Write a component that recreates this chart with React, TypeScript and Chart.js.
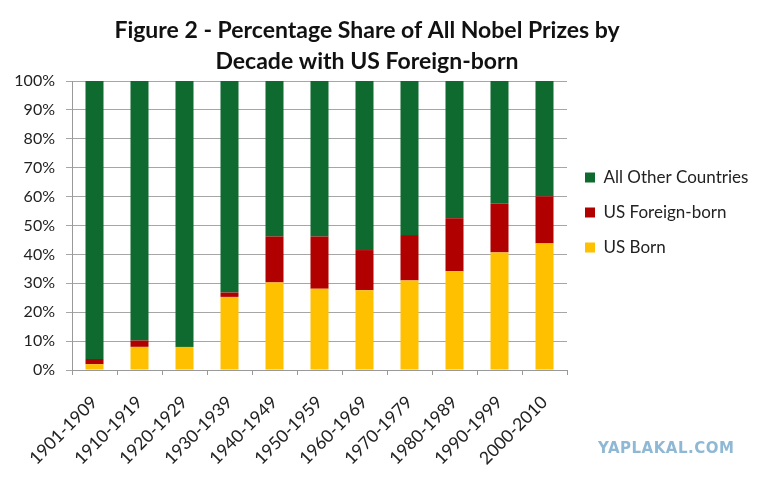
import React, { useEffect, useRef } from "react";
import { Chart, registerables } from "chart.js";

Chart.register(...registerables);

const decades = [
  "1901-1909", "1910-1919", "1920-1929", "1930-1939", "1940-1949", "1950-1959",
  "1960-1969", "1970-1979", "1980-1989", "1990-1999", "2000-2010",
];
const usBorn = [2, 8, 8, 25.3, 30.3, 28.1, 27.6, 31, 34.2, 40.7, 43.8];
const usForeignBorn = [1.8, 2.2, 0, 1.5, 15.9, 18.1, 13.9, 15.7, 18.3, 16.8, 16.3];
const allOther = [96.2, 89.8, 92, 73.2, 53.8, 53.8, 58.5, 53.3, 47.5, 42.5, 39.9];
const titleLines = ["Figure 2 - Percentage Share of All Nobel Prizes by", "Decade with US Foreign-born"];

const FONT = "Lato";

// the title sits a little left of the canvas centre, so it is drawn here instead of by the title plugin
const figureTitle = {
  id: "figureTitle",
  afterDraw(chart: Chart) {
    const ctx = chart.ctx;
    ctx.save();
    ctx.font = `bold 23px ${FONT}`;
    ctx.fillStyle = "#111";
    ctx.textAlign = "center";
    ctx.textBaseline = "middle";
    titleLines.forEach((line, i) => ctx.fillText(line, 367, 31 + i * 31));
    ctx.restore();
  },
};

const App = () => {
  const canvasRef = useRef<HTMLCanvasElement>(null);

  useEffect(() => {
    if (!canvasRef.current) return;
    const chart = new Chart(canvasRef.current, {
      type: "bar",
      data: {
        labels: decades,
        datasets: [
          { label: "US Born", data: usBorn, backgroundColor: "#ffc000" },
          { label: "US Foreign-born", data: usForeignBorn, backgroundColor: "#b00000" },
          { label: "All Other Countries", data: allOther, backgroundColor: "#0e6a2e" },
        ],
      },
      plugins: [figureTitle],
      options: {
        animation: false,
        responsive: true,
        maintainAspectRatio: false,
        datasets: { bar: { barPercentage: 0.4, categoryPercentage: 1 } },
        layout: { padding: { left: 12, right: 8, top: 81, bottom: 8 } },
        plugins: {
          legend: {
            position: "right",
            align: "start",
            reverse: true,
            title: { display: true, text: " ", font: { size: 10, lineHeight: 1 }, padding: { top: 60, bottom: 0 } },
            labels: {
              boxWidth: 10,
              boxHeight: 10,
              padding: 18,
              color: "#222",
              font: { family: FONT, size: 17 },
            },
          },
          tooltip: { enabled: false },
        },
        scales: {
          x: {
            stacked: true,
            afterFit: (scale) => {
              scale.paddingLeft = 0;
              scale.paddingRight = 0;
              scale.height = 100;
            },
            grid: { offset: true, drawOnChartArea: false, tickLength: 5, color: "#999" },
            border: { color: "#999" },
            ticks: { minRotation: 45, maxRotation: 45, color: "#222", font: { family: FONT, size: 17.5 }, padding: 17 },
          },
          y: {
            stacked: true,
            min: 0,
            max: 100,
            afterFit: (scale) => {
              scale.width = 60;
            },
            grid: { color: "#a6a6a6", tickLength: 6 },
            border: { color: "#999" },
            ticks: {
              stepSize: 10,
              color: "#222",
              padding: 11,
              font: { family: FONT, size: 16 },
              callback: (v) => v + "%",
            },
          },
        },
      },
    });
    return () => {
      chart.destroy();
    };
  }, []);

  return (
    <div style={{ position: "absolute", left: 0, top: 0, width: 760, height: 478, background: "#fff" }}>
      <canvas ref={canvasRef} />
      <span
        style={{
          position: "absolute",
          left: 598,
          top: 439,
          fontFamily: "DejaVu Sans",
          fontWeight: "bold",
          fontSize: 15,
          color: "#8fb8d5",
          letterSpacing: 0.5,
        }}
      >
        YAPLAKAL.COM
      </span>
    </div>
  );
};

export default App;
